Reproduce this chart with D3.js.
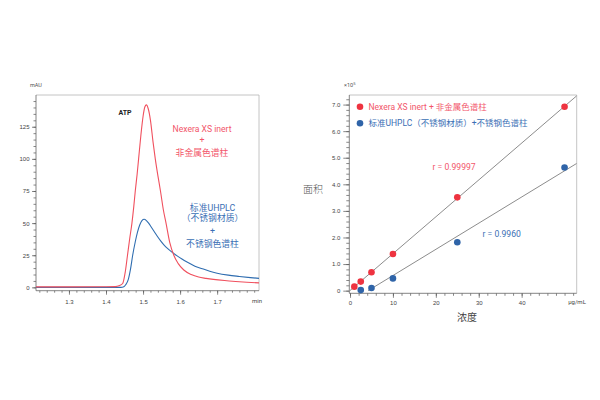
<!DOCTYPE html>
<html><head><meta charset="utf-8">
<script src="https://cdn.jsdelivr.net/npm/d3@7"></script>
<style>
body{margin:0;background:#fff;}
svg{display:block;font-family:Roboto,"Noto Sans CJK SC",sans-serif;}
</style></head>
<body><svg id="c" width="600" height="400"></svg>
<script>
// ---- Left chart: chromatogram (time in min, signal in mAU)
const redTime = [1.211,1.30,1.40,1.425,1.435,1.445,1.452,1.458,1.464,1.470,1.475,1.479,1.484,1.488,1.494,1.500,1.505,1.509,1.514,1.520,1.527,1.533,1.540,1.547,1.555,1.562,1.572,1.583,1.595,1.610,1.630,1.650,1.670,1.690,1.720,1.750,1.780,1.813];
const redSignal = [0.4,0.4,0.5,0.6,1.2,3,12,25,38,50,63,75,88,100,118,133,140.5,142,139,130,113,100,87,75,60,50,35,25,18.5,13.5,10,8,7,6.2,5.3,4.6,4,3.5];
const blueTime = [1.211,1.30,1.40,1.44,1.448,1.453,1.460,1.466,1.472,1.479,1.485,1.491,1.497,1.503,1.509,1.515,1.522,1.530,1.538,1.548,1.558,1.569,1.580,1.592,1.605,1.620,1.640,1.660,1.680,1.700,1.730,1.760,1.790,1.813];
const blueSignal = [0,0,0,0,0.5,2,6,14,25,35.5,43,48.5,52,53,52,50,47,43.5,40,36,32.5,29.5,27,24.5,22,19.5,16.5,14.5,12.5,11,9.5,8.5,7.6,7];
const leftXTicks = [1.3,1.4,1.5,1.6,1.7];
const leftYTicks = [0,25,50,75,100,125];

// ---- Right chart: calibration (conc in ug/mL, area x10^5)
const redConc = [1,2.5,5,10,25,50];
const redArea = [0.15,0.34,0.69,1.38,3.51,6.92];
const blueConc = [2.5,5,10,25,50];
const blueArea = [0.02,0.10,0.46,1.82,4.63];
const rightXTicks = [0,10,20,30,40];
const rightYTicks = [0,1,2,3,4,5,6,7];
const legendLabels = ["Nexera XS inert + 非金属色谱柱","标准UHPLC（不锈钢材质）+不锈钢色谱柱"];
const rLabels = ["r = 0.99997","r = 0.9960"];

const RED_LINE="#f0505e", BLUE_LINE="#2f6db0", RED_TXT="#f2566a", BLUE_TXT="#3a6fb5";
const RED_DOT="#ee3340", BLUE_DOT="#2f64a8";
const svg = d3.select("#c");

function styleAxis(g, col){
  g.select(".domain").remove();
  g.selectAll("line").attr("stroke",col).attr("stroke-width",0.7);
  g.selectAll("text").attr("fill","#444").attr("font-size",6);
}
function range(a,b,s){const r=[];for(let v=a;v<=b+1e-9;v+=s)r.push(+v.toFixed(4));return r;}

// ===== LEFT =====
{
  const L=36,R=259,T=95,B=290.7;
  const x=d3.scaleLinear().domain([1.211,1.813]).range([L,R]);
  const y=d3.scaleLinear().domain([-2.6,149.7]).range([B,T]);
  const g=svg.append("g");
  // minor ticks
  g.append("g").attr("transform",`translate(0,${B})`)
    .call(d3.axisBottom(x).tickValues(range(1.22,1.80,0.02)).tickSize(2).tickFormat("")).call(s=>styleAxis(s,"#555"));
  g.append("g").attr("transform",`translate(0,${B})`)
    .call(d3.axisBottom(x).tickValues(leftXTicks).tickSize(4).tickPadding(5).tickFormat(d3.format(".1f"))).call(s=>styleAxis(s,"#555"));
  g.append("g").attr("transform",`translate(${L},0)`)
    .call(d3.axisLeft(y).tickValues(range(0,145,5)).tickSize(2.5).tickFormat("")).call(s=>styleAxis(s,"#555"));
  g.append("g").attr("transform",`translate(${L},0)`)
    .call(d3.axisLeft(y).tickValues(leftYTicks).tickSize(4).tickPadding(2.5).tickFormat(d3.format("d"))).call(s=>styleAxis(s,"#555"));
  // frame
  g.append("path").attr("d",`M${L},${T}H${R}V${B}`).attr("fill","none").attr("stroke","#b5b5b5").attr("stroke-width",0.8);
  g.append("path").attr("d",`M${L},${T}V${B}H${R}`).attr("fill","none").attr("stroke","#666").attr("stroke-width",0.8);
  const line=d3.line().x(d=>x(d[0])).y(d=>y(d[1])).curve(d3.curveMonotoneX);
  g.append("path").datum(blueTime.map((t,i)=>[t,blueSignal[i]])).attr("d",line)
    .attr("fill","none").attr("stroke",BLUE_LINE).attr("stroke-width",1.1);
  g.append("path").datum(redTime.map((t,i)=>[t,redSignal[i]])).attr("d",line)
    .attr("fill","none").attr("stroke",RED_LINE).attr("stroke-width",1.1);
  g.append("text").attr("x",30).attr("y",87).attr("font-size",5.5).attr("fill","#555").text("mAU");
  g.append("text").attr("x",257).attr("y",303).attr("font-size",6).attr("fill","#444").attr("text-anchor","middle").text("min");
  g.append("text").attr("x",125).attr("y",114.5).attr("font-size",7).attr("font-weight","bold").attr("fill","#222").attr("text-anchor","middle").text("ATP");
  const rt=["Nexera XS inert","+","非金属色谱柱"], ry=[132,143,156];
  rt.forEach((t,i)=>g.append("text").attr("x",202).attr("y",ry[i]).attr("font-size",i==0?8.6:8.8).attr("fill",RED_TXT).attr("text-anchor","middle").text(t));
  const bt=["标准UHPLC","（不锈钢材质）","+","不锈钢色谱柱"], by=[210.5,221,234,246.5];
  bt.forEach((t,i)=>g.append("text").attr("x",212.5).attr("y",by[i]).attr("font-size",8.8).attr("fill",BLUE_TXT).attr("text-anchor","middle").text(t));
}

// ===== RIGHT =====
{
  const L=349.3,R=576.7,T=95,B=293.3;
  const x=d3.scaleLinear().domain([-0.17,52.83]).range([L,R]);
  const y=d3.scaleLinear().domain([-0.1,7.36]).range([B,T]);
  const g=svg.append("g");
  g.append("g").attr("transform",`translate(0,${B})`)
    .call(d3.axisBottom(x).tickValues(range(0,52,2)).tickSize(2.5).tickFormat("")).call(s=>styleAxis(s,"#555"));
  g.append("g").attr("transform",`translate(0,${B})`)
    .call(d3.axisBottom(x).tickValues(rightXTicks).tickSize(4.5).tickPadding(3).tickFormat(d3.format("d"))).call(s=>styleAxis(s,"#555"));
  g.append("g").attr("transform",`translate(${L},0)`)
    .call(d3.axisLeft(y).tickValues(range(0,7.2,0.2)).tickSize(3).tickFormat("")).call(s=>styleAxis(s,"#555"));
  g.append("g").attr("transform",`translate(${L},0)`)
    .call(d3.axisLeft(y).tickValues(rightYTicks).tickSize(6).tickPadding(3).tickFormat(d=>d===0?"0":d3.format(".1f")(d))).call(s=>styleAxis(s,"#555"));
  g.append("path").attr("d",`M${L},${T}H${R}V${B}`).attr("fill","none").attr("stroke","#b5b5b5").attr("stroke-width",0.8);
  g.append("path").attr("d",`M${L},${T}V${B}H${R}`).attr("fill","none").attr("stroke","#666").attr("stroke-width",0.8);
  g.append("defs").append("clipPath").attr("id","rc").append("rect").attr("x",L).attr("y",T).attr("width",R-L).attr("height",B-T);
  // least-squares fits from data
  function fit(xs,ys){const n=xs.length,mx=d3.mean(xs),my=d3.mean(ys);
    let sxy=0,sxx=0;for(let i=0;i<n;i++){sxy+=(xs[i]-mx)*(ys[i]-my);sxx+=(xs[i]-mx)**2;}
    const m=sxy/sxx;return [m,my-m*mx];}
  [[redConc,redArea],[blueConc,blueArea]].forEach(([xs,ys])=>{
    const [m,b]=fit(xs,ys); const x0=Math.max(0,-b/m), x1=52.83;
    g.append("line").attr("clip-path","url(#rc)")
      .attr("x1",x(x0)).attr("y1",y(m*x0+b)).attr("x2",x(x1)).attr("y2",y(m*x1+b))
      .attr("stroke","#6f6f6f").attr("stroke-width",0.8);
  });
  g.selectAll(".rd").data(redConc.map((c,i)=>[c,redArea[i]])).join("circle")
    .attr("cx",d=>x(d[0])).attr("cy",d=>y(d[1])).attr("r",3.3).attr("fill",RED_DOT);
  g.selectAll(".bd").data(blueConc.map((c,i)=>[c,blueArea[i]])).join("circle")
    .attr("cx",d=>x(d[0])).attr("cy",d=>y(d[1])).attr("r",3.3).attr("fill",BLUE_DOT);
  // legend
  [[RED_DOT,RED_TXT,106.7],[BLUE_DOT,BLUE_TXT,123.3]].forEach(([dc,tc,yy],i)=>{
    g.append("circle").attr("cx",360).attr("cy",yy).attr("r",3.3).attr("fill",dc);
    g.append("text").attr("x",368.5).attr("y",yy+3).attr("font-size",8.5).attr("fill",tc).text(legendLabels[i]);
  });
  g.append("text").attr("x",432.5).attr("y",169.5).attr("font-size",8.6).attr("fill",RED_TXT).text(rLabels[0]);
  g.append("text").attr("x",482.5).attr("y",237).attr("font-size",8.6).attr("fill",BLUE_TXT).text(rLabels[1]);
  const sx=g.append("text").attr("x",344).attr("y",87).attr("font-size",5.5).attr("fill","#555").text("×10");
  sx.append("tspan").attr("dy",-2).attr("font-size",4).text("5");
  g.append("text").attr("x",577).attr("y",303.5).attr("font-size",6).attr("fill","#444").attr("text-anchor","middle").text("μg/mL");
  g.append("text").attr("x",313).attr("y",192.5).attr("font-size",10).attr("font-weight",300).attr("fill","#555").attr("text-anchor","middle").text("面积");
  g.append("text").attr("x",467).attr("y",320.5).attr("font-size",10).attr("fill","#444").attr("text-anchor","middle").text("浓度");
}
</script></body></html>
